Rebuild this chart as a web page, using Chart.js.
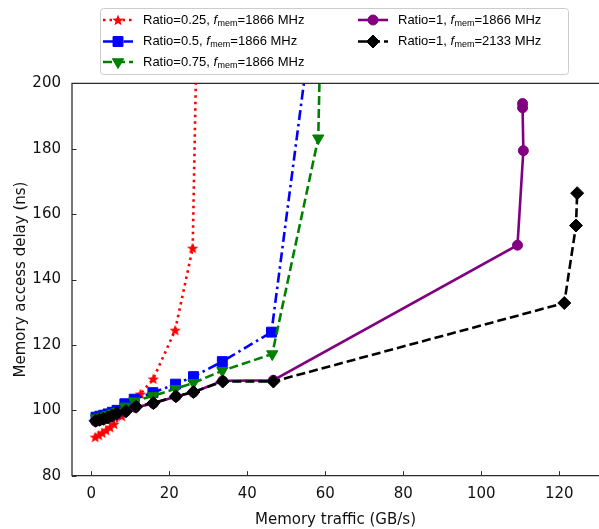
<!DOCTYPE html>
<html>
<head>
<meta charset="utf-8">
<script src="https://cdn.jsdelivr.net/npm/chart.js@4.4.0/dist/chart.umd.min.js"></script>
<style>
  html, body { margin: 0; padding: 0; background: #fff; }
  #wrap { width: 599px; height: 529px; }
</style>
</head>
<body>
<div id="wrap"><canvas id="delayChart" width="599" height="529"></canvas></div>
<script>
// Ratio = 0.25, f_mem = 1866 MHz
const trafficR025 = [1.0, 1.9, 2.8, 3.8, 4.8, 5.8, 7.8, 10.0, 12.6, 15.9, 21.5, 26.0, 27.5];
const delayR025   = [91.8, 92.4, 93.1, 93.9, 94.8, 95.8, 98.2, 101.2, 105.0, 109.6, 124.5, 149.6, 245];

// Ratio = 0.5, f_mem = 1866 MHz
const trafficR050 = [1.2, 2.2, 3.2, 4.3, 5.4, 6.6, 8.6, 11.0, 15.8, 21.6, 26.2, 33.6, 46.2, 56.0];
const delayR050   = [97.9, 98.2, 98.5, 98.9, 99.4, 100.0, 102.0, 103.4, 105.4, 108.0, 110.3, 114.9, 123.9, 213.6];

// Ratio = 0.75, f_mem = 1866 MHz
const trafficR075 = [1.2, 2.2, 3.2, 4.3, 5.4, 6.6, 8.6, 11.0, 15.8, 21.6, 26.2, 33.6, 46.4, 58.2, 58.9];
const delayR075   = [97.6, 97.9, 98.2, 98.6, 99.1, 99.6, 101.2, 102.8, 104.4, 106.6, 108.4, 112.1, 117.2, 183.2, 222];

// Ratio = 1, f_mem = 1866 MHz
const trafficR100 = [1.1, 2.1, 3.1, 4.2, 5.3, 6.5, 8.7, 11.3, 15.9, 21.7, 26.2, 33.7, 46.7, 109.3, 110.8, 110.6, 110.6];
const delayR100   = [96.6, 96.9, 97.2, 97.6, 98.1, 98.7, 99.5, 100.9, 102.1, 104.2, 105.5, 109.0, 109.2, 150.5, 179.4, 192.5, 193.8];

// Ratio = 1, f_mem = 2133 MHz
const trafficR100f = [1.1, 2.1, 3.1, 4.2, 5.3, 6.6, 8.9, 11.5, 15.9, 21.7, 26.2, 33.7, 46.7, 121.3, 124.3, 124.6];
const delayR100f   = [96.8, 97.1, 97.4, 97.8, 98.3, 99.1, 99.7, 101.1, 102.2, 104.3, 105.6, 108.8, 108.8, 132.8, 156.5, 166.4];

// legend text parts and axis ticks
const ratioLabels = ['0.25', '0.5', '0.75', '1', '1'];
const freqLabels = ['1866', '1866', '1866', '1866', '2133'];
const xTicks = [0, 20, 40, 60, 80, 100, 120];
const yTicks = [80, 100, 120, 140, 160, 180, 200];

function pairs(xs, ys) {
  return xs.map((x, i) => ({ x: x, y: ys[i] }));
}

// filled five-point star marker
function makeStar(color, outer, inner) {
  const c = document.createElement('canvas');
  const s = Math.ceil(outer * 2 + 2);
  c.width = s; c.height = s;
  const g = c.getContext('2d');
  g.translate(s / 2, s / 2 + 0.5);
  g.beginPath();
  for (let i = 0; i < 10; i++) {
    const r = i % 2 === 0 ? outer : inner;
    const a = -Math.PI / 2 + i * Math.PI / 5;
    if (i === 0) g.moveTo(r * Math.cos(a), r * Math.sin(a));
    else g.lineTo(r * Math.cos(a), r * Math.sin(a));
  }
  g.closePath();
  g.fillStyle = color;
  g.fill();
  return c;
}
const redStar = makeStar('#ff0000', 6, 2.6);

function series(label, xs, ys, color, dash, style, radius, rotation, order) {
  return {
    label: label,
    data: pairs(xs, ys),
    showLine: true,
    borderColor: color,
    backgroundColor: color,
    borderWidth: 2.6,
    borderDash: dash,
    pointStyle: style,
    pointRadius: radius,
    pointHoverRadius: radius,
    pointRotation: rotation,
    pointBorderWidth: 1,
    pointBorderColor: color,
    pointBackgroundColor: color,
    tension: 0,
    clip: { left: 8, right: 8, top: 0, bottom: 8 },
    order: order
  };
}

const datasets = [
  series('r025', trafficR025, delayR025, '#ff0000', [2.5, 4], redStar, 6, 0, 5),
  series('r050', trafficR050, delayR050, '#0000ff', [10, 4, 2.5, 4], 'rect', 7, 0, 4),
  series('r075', trafficR075, delayR075, '#008000', [9, 4], 'triangle', 6.5, 180, 3),
  series('r100', trafficR100, delayR100, '#800080', [], 'circle', 5, 0, 2),
  series('r100f', trafficR100f, delayR100f, '#000000', [9, 4], 'rectRot', 6.5, 0, 1)
];

// spines with inward ticks, drawn over the lines
const axesFrame = {
  id: 'axesFrame',
  afterDatasetsDraw(chart) {
    const ctx = chart.ctx;
    const a = chart.chartArea;
    const xs = chart.scales.x, ys = chart.scales.y;
    ctx.save();
    ctx.strokeStyle = '#2b2b2b';
    ctx.lineWidth = 1.3;
    ctx.beginPath();
    ctx.moveTo(a.right + 2, a.top); ctx.lineTo(a.left, a.top);
    ctx.lineTo(a.left, a.bottom); ctx.lineTo(a.right + 2, a.bottom);
    ctx.stroke();
    ctx.lineWidth = 1;
    ctx.beginPath();
    xTicks.forEach(v => {
      const px = Math.round(xs.getPixelForValue(v)) + 0.5;
      ctx.moveTo(px, a.bottom); ctx.lineTo(px, a.bottom - 4.5);
    });
    yTicks.forEach(v => {
      const py = Math.round(ys.getPixelForValue(v)) + 0.5;
      ctx.moveTo(a.left, py); ctx.lineTo(a.left + 4.5, py);
    });
    ctx.stroke();
    ctx.restore();
  }
};

// two-column legend with subscripted f_mem
const memLegend = {
  id: 'memLegend',
  afterDraw(chart) {
    const ctx = chart.ctx;
    const h = Chart.helpers;
    ctx.save();
    // frame
    const bx = 100.5, by = 8.5, bw = 468, bh = 66, rr = 3;
    ctx.beginPath();
    ctx.moveTo(bx + rr, by);
    ctx.arcTo(bx + bw, by, bx + bw, by + bh, rr);
    ctx.arcTo(bx + bw, by + bh, bx, by + bh, rr);
    ctx.arcTo(bx, by + bh, bx, by, rr);
    ctx.arcTo(bx, by, bx + bw, by, rr);
    ctx.closePath();
    ctx.fillStyle = 'rgba(255,255,255,0.9)';
    ctx.fill();
    ctx.strokeStyle = '#cccccc';
    ctx.lineWidth = 1;
    ctx.stroke();

    const spots = [[103, 20], [103, 41.5], [103, 62], [358, 20], [358, 41.5]];
    datasets.forEach((ds, i) => {
      const [lx, ly] = spots[i];
      ctx.save();
      ctx.strokeStyle = ds.borderColor;
      ctx.lineWidth = ds.borderWidth;
      ctx.setLineDash(ds.borderDash);
      ctx.beginPath();
      ctx.moveTo(lx, ly); ctx.lineTo(lx + 30, ly);
      ctx.stroke();
      ctx.setLineDash([]);
      ctx.fillStyle = ds.pointBackgroundColor;
      ctx.strokeStyle = ds.pointBorderColor;
      ctx.lineWidth = 1;
      h.drawPoint(ctx, {
        pointStyle: ds.pointStyle,
        rotation: ds.pointRotation,
        radius: ds.pointRadius,
        borderWidth: 1
      }, lx + 15, ly);
      ctx.restore();

      // text: Ratio=..., f_mem=... MHz
      let tx = lx + 40;
      ctx.fillStyle = '#000';
      ctx.textBaseline = 'middle';
      ctx.textAlign = 'left';
      ctx.font = '13px "Liberation Sans", Arial, sans-serif';
      const head = 'Ratio=' + ratioLabels[i] + ', ';
      ctx.fillText(head, tx, ly);
      tx += ctx.measureText(head).width;
      ctx.font = 'italic 13px "Liberation Sans", Arial, sans-serif';
      ctx.fillText('f', tx, ly);
      tx += ctx.measureText('f').width + 0.5;
      ctx.font = '9px "Liberation Sans", Arial, sans-serif';
      ctx.fillText('mem', tx, ly + 3.5);
      tx += ctx.measureText('mem').width;
      ctx.font = '13px "Liberation Sans", Arial, sans-serif';
      ctx.fillText('=' + freqLabels[i] + ' MHz', tx, ly);
    });
    ctx.restore();
  }
};

const tickFont = { family: '"DejaVu Sans", sans-serif', size: 15 };

new Chart(document.getElementById('delayChart'), {
  type: 'scatter',
  data: { datasets: datasets },
  options: {
    responsive: false,
    animation: false,
    events: [],
    layout: { autoPadding: false, padding: { top: 83.3, left: 0, right: 0, bottom: 0 } },
    plugins: {
      legend: { display: false },
      tooltip: { enabled: false }
    },
    scales: {
      x: {
        type: 'linear',
        min: -4.95,
        max: 130.2,
        afterBuildTicks: s => { s.ticks = xTicks.map(v => ({ value: v })); },
        afterFit: s => { s.height = 529 - 475.7; s.paddingLeft = 0; s.paddingRight = 0; },
        grid: { display: false, drawTicks: false },
        border: { display: false },
        ticks: { font: tickFont, color: '#111', padding: 9, maxRotation: 0 },
        title: {
          display: true,
          text: 'Memory traffic (GB/s)',
          font: tickFont,
          color: '#111',
          padding: { top: 7, bottom: 0 }
        }
      },
      y: {
        type: 'linear',
        min: 80,
        max: 200,
        afterBuildTicks: s => { s.ticks = yTicks.map(v => ({ value: v })); },
        afterFit: s => { s.width = 72; s.paddingTop = 0; s.paddingBottom = 0; },
        grid: { display: false, drawTicks: false },
        border: { display: false },
        ticks: { font: tickFont, color: '#111', padding: 11 },
        title: {
          display: true,
          text: 'Memory access delay (ns)',
          font: tickFont,
          color: '#111',
          padding: { top: 12, bottom: 0 }
        }
      }
    }
  },
  plugins: [axesFrame, memLegend]
});
</script>
</body>
</html>
